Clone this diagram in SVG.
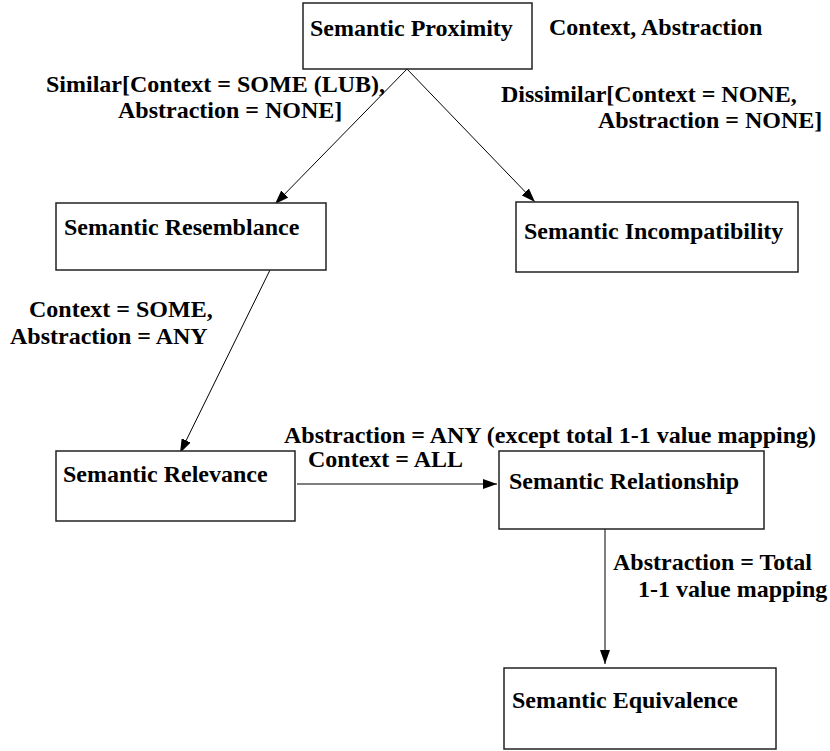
<svg xmlns="http://www.w3.org/2000/svg" width="830" height="751" viewBox="0 0 830 751">
<style>
text{font-family:"Liberation Serif","Times New Roman",serif;font-weight:bold;font-size:24px;fill:#000}
.box{fill:#fff;stroke:#222;stroke-width:1.5}
.edge{stroke:#000;stroke-width:1;fill:none}
</style>
<defs>
<marker id="ah" markerWidth="14" markerHeight="10" refX="14" refY="5" orient="auto" markerUnits="userSpaceOnUse">
<path d="M0,0 L14,5 L0,10 Z" fill="#000"/>
</marker>
</defs>
<rect width="830" height="751" fill="#fff"/>
<g id="connectors">
<line class="edge" x1="407" y1="69" x2="275" y2="204" marker-end="url(#ah)"/>
<line class="edge" x1="407" y1="69" x2="535" y2="202" marker-end="url(#ah)"/>
<line class="edge" x1="270" y1="270" x2="180" y2="453" marker-end="url(#ah)"/>
<line class="edge" x1="297" y1="484" x2="497" y2="484" marker-end="url(#ah)"/>
<line class="edge" x1="605" y1="529" x2="605" y2="664" marker-end="url(#ah)"/>
</g>
<g id="proximity">
<rect class="box" x="303" y="3" width="229" height="66"/>
<text x="310" y="36">Semantic Proximity</text>
</g>
<g id="resemblance">
<rect class="box" x="56" y="203" width="270" height="67"/>
<text x="64" y="235">Semantic Resemblance</text>
</g>
<g id="incompatibility">
<rect class="box" x="516" y="202" width="282" height="70"/>
<text x="524" y="239">Semantic Incompatibility</text>
</g>
<g id="relevance">
<rect class="box" x="56" y="451" width="239" height="70"/>
<text x="63" y="482">Semantic Relevance</text>
</g>
<g id="relationship">
<rect class="box" x="499" y="451" width="265" height="78"/>
<text x="509" y="489">Semantic Relationship</text>
</g>
<g id="equivalence">
<rect class="box" x="504" y="668" width="272" height="81"/>
<text x="512" y="708">Semantic Equivalence</text>
</g>
<g id="labels">
<text x="549" y="35">Context, Abstraction</text>
<text x="46" y="92">Similar[Context = SOME (LUB),</text>
<text x="118" y="118">Abstraction = NONE]</text>
<text x="501" y="102">Dissimilar[Context = NONE,</text>
<text x="598" y="128">Abstraction = NONE]</text>
<text x="29" y="317">Context = SOME,</text>
<text x="10" y="344">Abstraction = ANY</text>
<text x="284" y="443">Abstraction = ANY (except total 1-1 value mapping)</text>
<text x="308" y="467">Context = ALL</text>
<text x="613" y="570">Abstraction = Total</text>
<text x="638" y="597">1-1 value mapping</text>
</g>
</svg>
